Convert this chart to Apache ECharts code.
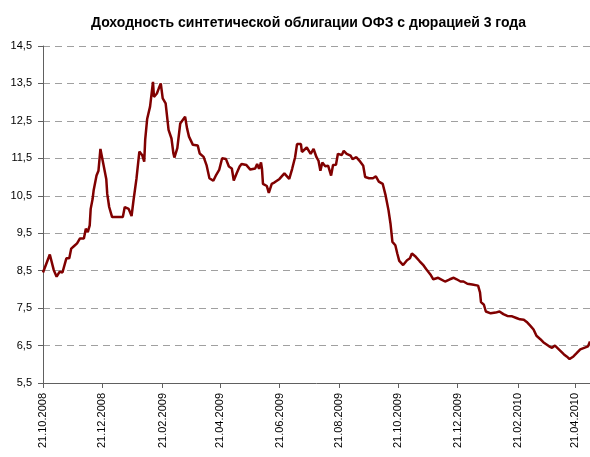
<!DOCTYPE html>
<html>
<head>
<meta charset="utf-8">
<title>Доходность ОФЗ</title>
<script src="https://cdn.jsdelivr.net/npm/echarts@6/dist/echarts.min.js"></script>
</head>
<body style="margin:0">
<div id="main" style="width:590px;height:457px;"></div>
<script type="text/javascript">
// day offsets from 21.10.2008 and yields
var days = [0, 7, 11, 14, 17, 20, 22, 24, 27, 29, 32, 35, 36, 38, 42, 44, 46, 48, 49, 51,
    52, 55, 57, 59, 61, 65, 66, 68, 71, 82, 84, 88, 91, 93, 96, 99, 102, 104, 105, 107,
    110, 113, 114, 117, 119, 121, 123, 126, 129, 132, 134, 135, 138, 141, 143, 146, 148, 150, 154, 159,
    161, 165, 168, 171, 175, 178, 181, 184, 188, 191, 194, 196, 199, 202, 204, 206, 209, 213, 218, 220,
    222, 224, 225, 226, 230, 232, 235, 238, 243, 248, 250, 253, 256, 259, 261, 265, 266, 268, 271, 273,
    275, 278, 281, 283, 285, 287, 290, 293, 296, 298, 301, 303, 307, 309, 312, 316, 318, 322, 325, 329,
    331, 335, 339, 342, 345, 346, 349, 352, 355, 357, 359, 362, 364, 366, 370, 374, 377, 379, 383, 387,
    391, 394, 398, 401, 406, 413, 418, 422, 425, 429, 432, 436, 441, 447, 449, 450, 453, 455, 460, 465,
    469, 473, 477, 482, 487, 490, 494, 497, 501, 504, 507, 511, 514, 520, 523, 526, 530, 535, 538, 541,
    545, 548, 552, 556, 560, 562];
var yields = [8.45, 8.93, 8.52, 8.34, 8.47, 8.45, 8.5, 8.83, 8.83, 9.09, 9.16, 9.23, 9.18, 9.36, 9.36, 9.62, 9.53, 9.71, 10.15, 10.42,
    10.64, 11.04, 11.17, 11.75, 11.77, 10.95, 10.55, 10.2, 9.93, 9.93, 10.2, 10.15, 9.96, 10.38, 10.95, 11.68, 11.58, 11.41, 12.0, 12.55,
    12.88, 13.54, 13.14, 13.23, 13.37, 13.5, 13.1, 12.97, 12.26, 12.03, 11.63, 11.52, 11.77, 12.43, 12.48, 12.61, 12.3, 12.08, 11.86, 11.84,
    11.63, 11.54, 11.32, 10.97, 10.9, 11.06, 11.19, 11.5, 11.48, 11.28, 11.23, 10.91, 11.1, 11.28, 11.35, 11.39, 11.32, 11.2, 11.23, 11.35,
    11.22, 11.39, 11.22, 10.82, 10.76, 10.58, 10.82, 10.86, 10.95, 11.1, 11.04, 10.95, 11.22, 11.53, 11.88, 11.88, 11.67, 11.7, 11.79, 11.84,
    11.62, 11.75, 11.53, 11.44, 11.17, 11.39, 11.29, 11.3, 11.04, 11.32, 11.33, 11.62, 11.59, 11.7, 11.62, 11.57, 11.48, 11.53, 11.44, 11.3,
    11.0, 10.97, 10.97, 11.02, 10.88, 10.85, 10.82, 10.51, 10.11, 9.76, 9.27, 9.18, 8.96, 8.76, 8.65, 8.78, 8.83, 8.96, 8.87, 8.75,
    8.64, 8.53, 8.4, 8.27, 8.31, 8.21, 8.27, 8.31, 8.27, 8.21, 8.21, 8.15, 8.13, 8.1, 7.92, 7.66, 7.59, 7.41, 7.36, 7.38,
    7.41, 7.34, 7.29, 7.28, 7.23, 7.2, 7.19, 7.13, 7.02, 6.93, 6.76, 6.67, 6.59, 6.48, 6.44, 6.5, 6.4, 6.27, 6.21, 6.14,
    6.21, 6.29, 6.4, 6.44, 6.48, 6.61];

// one category per calendar day, 21.10.2008 .. 06.05.2010
var dates = [];
var start = Date.UTC(2008, 9, 21);
for (var i = 0; i <= 562; i++) {
    var d = new Date(start + i * 86400000);
    var dd = ('0' + d.getUTCDate()).slice(-2);
    var mm = ('0' + (d.getUTCMonth() + 1)).slice(-2);
    dates.push(dd + '.' + mm + '.' + d.getUTCFullYear());
}
function isMark(index, value) {
    var p = value.split('.');
    return p[0] === '21' && parseInt(p[1], 10) % 2 === 0;
}

var myChart = echarts.init(document.getElementById('main'));
myChart.setOption({
    backgroundColor: '#FFFFFF',
    animation: false,
    title: {
        text: 'Доходность синтетической облигации ОФЗ с дюрацией 3 года',
        left: 86,
        top: 11,
        textStyle: {
            fontFamily: 'Liberation Sans',
            fontWeight: 'bold',
            fontSize: 14,
            color: '#000'
        }
    },
    grid: {
        left: 43,
        right: 0,
        top: 46,
        bottom: 74
    },
    xAxis: {
        type: 'category',
        data: dates,
        boundaryGap: false,
        axisLine: { lineStyle: { color: '#606060', width: 1 } },
        axisTick: { show: true, interval: isMark, length: 5, lineStyle: { color: '#606060' } },
        axisLabel: {
            interval: isMark,
            rotate: 90,
            margin: 10,
            fontFamily: 'Liberation Sans',
            fontSize: 11,
            color: '#000'
        },
        splitLine: { show: false }
    },
    yAxis: {
        type: 'value',
        min: 5.5,
        max: 14.5,
        interval: 1,
        axisLine: { show: true, lineStyle: { color: '#606060', width: 1 } },
        axisTick: { show: true, length: 5, lineStyle: { color: '#606060' } },
        axisLabel: {
            margin: 11,
            fontFamily: 'Liberation Sans',
            fontSize: 11,
            color: '#000',
            formatter: function (v) { return v.toFixed(1).replace('.', ','); }
        },
        splitLine: { show: true, lineStyle: { color: '#a0a0a0', type: [7, 5], width: 1 } }
    },
    series: [{
        name: 'Доходность',
        type: 'line',
        showSymbol: false,
        symbol: 'none',
        data: days.map(function (d, k) { return [d, yields[k]]; }),
        lineStyle: { color: '#800000', width: 2.5 },
        itemStyle: { color: '#800000' }
    }]
});
</script>
</body>
</html>
